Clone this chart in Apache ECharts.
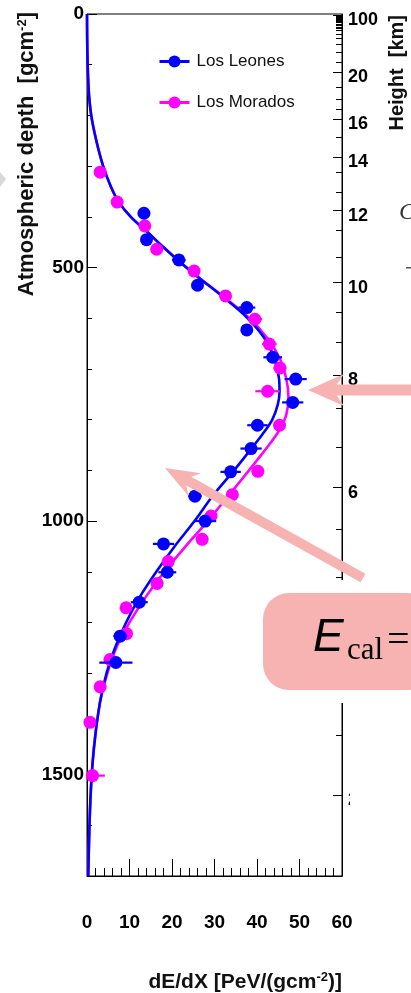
<!DOCTYPE html>
<html>
<head>
<meta charset="utf-8">
<script src="https://cdn.jsdelivr.net/npm/echarts@6/dist/echarts.min.js"></script>
<style>
  html, body { margin: 0; padding: 0; background: #ffffff; }
  #chart { width: 411px; height: 993px; }
</style>
</head>
<body>
<div id="chart"></div>
<script>
// ---- Measured energy deposit profiles (dE/dX in PeV/(g cm^-2) vs slant depth in g cm^-2) ----
const leonesDepth = [393, 445, 485, 535, 579, 623, 677, 720, 766, 811, 857, 903, 951, 1000, 1045, 1101, 1160, 1227, 1279];
const leonesDedx  = [13.4, 14.0, 21.6, 26.0, 37.6, 37.6, 43.7, 49.1, 48.4, 40.1, 38.6, 33.8, 25.4, 27.8, 18.0, 18.9, 12.3, 7.8, 6.8];
const leonesErr   = [0.5, 0.6, 1.6, 1.0, 2.0, 1.2, 2.2, 2.6, 2.5, 2.4, 2.5, 2.4, 1.6, 2.6, 2.5, 2.1, 2.0, 1.6, 3.9];

const moradosDepth = [312, 371, 418, 464, 507, 556, 602, 651, 698, 744, 811, 902, 948, 990, 1036, 1080, 1123, 1171, 1222, 1273, 1327, 1397, 1502];
const moradosDedx  = [3.1, 7.1, 13.6, 16.4, 25.2, 32.6, 39.5, 42.9, 45.4, 42.5, 45.3, 40.2, 34.2, 29.2, 27.1, 19.1, 16.5, 9.2, 9.3, 5.4, 3.1, 0.7, 1.3];
const moradosErr   = [0.3, 0.4, 0.5, 0.6, 0.9, 1.0, 1.7, 1.7, 1.5, 2.9, 1.3, 1.4, 1.3, 1.0, 0.9, 1.0, 0.9, 0.6, 0.7, 0.5, 0.3, 0.3, 2.9];

// ---- Profile fits ----
const leonesFitDepth = [0, 80, 150, 200, 250, 300, 340, 370, 400, 430, 460, 490, 520, 560, 600, 640, 680, 720, 745, 770, 800, 830, 860, 900, 950, 1000, 1050, 1100, 1150, 1200, 1250, 1300, 1360, 1450, 1550, 1700];
const leonesFitDedx  = [0, 0.1, 0.4, 1.0, 2.2, 3.8, 5.6, 7.4, 10.3, 14.2, 18.0, 22.0, 26.3, 32.3, 37.8, 41.8, 44.1, 45.2, 45.3, 44.9, 43.6, 41.2, 38.4, 34.6, 29.6, 25.3, 20.6, 16.3, 12.4, 9.2, 6.6, 4.6, 3.0, 1.6, 0.8, 0.3];

const moradosFitDepth = [0, 80, 150, 200, 250, 300, 340, 370, 400, 430, 460, 490, 520, 560, 600, 640, 680, 720, 755, 790, 820, 850, 880, 920, 960, 1000, 1050, 1100, 1150, 1200, 1250, 1300, 1360, 1450, 1550, 1700];
const moradosFitDedx  = [0, 0.1, 0.4, 1.0, 2.2, 3.8, 5.6, 7.4, 10.3, 14.2, 18.0, 22.0, 26.4, 32.5, 38.2, 42.5, 45.4, 46.9, 47.4, 46.9, 45.3, 42.8, 40.0, 36.2, 32.3, 28.4, 23.2, 18.2, 13.8, 10.0, 6.9, 4.8, 3.0, 1.6, 0.8, 0.3];

// ---- Axis ticks ----
const dedxTicks = [0, 10, 20, 30, 40, 50, 60];
const depthTicks = [0, 500, 1000, 1500];
// Height scale on the right: labelled heights (km) and the slant depth each sits at
const heightLabels = ['100', '20', '16', '14', '12', '10', '8', '6', '4', '2'];
const heightMajorDepth = [2, 114, 207, 282, 388, 530, 712, 933, 1222, 1540];
const heightMinorDepth = [4, 6, 8, 10, 12, 14, 17, 20, 23, 26, 29, 33, 39, 47, 59, 75, 95, 144, 168, 187, 244, 313, 351, 426, 479, 588, 647, 777, 854, 1017, 1110, 1422];

const FONT = "'Liberation Sans', Arial, Helvetica, sans-serif";
const BLUE = '#0000ff';
const MAGENTA = '#ff00ff';
const PINK = '#f7b2b2';

const zip = (xs, ys) => xs.map((x, i) => [x, ys[i]]);
const zip3 = (xs, ys, es) => xs.map((x, i) => [x, ys[i], es[i]]);

function errorBar(params, api) {
  const x = api.value(0), d = api.value(1), e = api.value(2);
  const a = api.coord([Math.max(0, x - e), d]);
  const b = api.coord([x + e, d]);
  return {
    type: 'line',
    shape: { x1: a[0], y1: a[1], x2: b[0], y2: b[1] },
    style: { stroke: api.visual('color'), lineWidth: 2.2 }
  };
}

// Filled arrow outline from tail to tip
function arrowPoints(x0, y0, x1, y1, shaftW, headL, headW) {
  const dx = x1 - x0, dy = y1 - y0, L = Math.hypot(dx, dy);
  const ux = dx / L, uy = dy / L, px = -uy, py = ux;
  const bx = x1 - ux * headL, by = y1 - uy * headL;
  const jx = x1 - ux * headL * 0.8, jy = y1 - uy * headL * 0.8;
  const s = shaftW / 2;
  return [
    [x0 + px * s, y0 + py * s],
    [jx + px * s, jy + py * s],
    [bx + px * headW, by + py * headW],
    [x1, y1],
    [bx - px * headW, by - py * headW],
    [jx - px * s, jy - py * s],
    [x0 - px * s, y0 - py * s]
  ];
}

const chart = echarts.init(document.getElementById('chart'), null, { renderer: 'canvas' });

const depthAxisBase = { type: 'value', inverse: true, min: 0, max: 1700, splitLine: { show: false } };

chart.setOption({
  animation: false,
  backgroundColor: '#ffffff',
  grid: { left: 87, right: 69, top: 14, bottom: 117, show: true, borderColor: '#000', borderWidth: 1, backgroundColor: 'transparent' },
  legend: {
    orient: 'vertical', left: 158, top: 53, padding: 0,
    itemWidth: 30, itemHeight: 15, itemGap: 24,
    data: ['Los Leones', 'Los Morados'],
    selectedMode: false,
    textStyle: { fontSize: 17, color: '#111', fontFamily: FONT, padding: [0, 0, 0, 2] },
    lineStyle: { width: 3, opacity: 1 }
  },
  xAxis: {
    type: 'value', position: 'bottom', min: dedxTicks[0], max: dedxTicks[dedxTicks.length - 1], interval: 10,
    axisLine: { show: true, onZero: false, lineStyle: { color: '#000', width: 1 } },
    axisTick: { show: true, inside: true, length: 17, lineStyle: { color: '#000' } },
    minorTick: { show: true, splitNumber: 5, length: 8, lineStyle: { color: '#000' } },
    axisLabel: { fontSize: 19, fontWeight: 'bold', color: '#000', fontFamily: FONT, margin: 37 },
    splitLine: { show: false }
  },
  yAxis: [
    Object.assign({}, depthAxisBase, {
      position: 'left', interval: 500,
      axisLine: { show: true, onZero: false, lineStyle: { color: '#000', width: 1 } },
      axisTick: { show: true, inside: true, length: 10, lineStyle: { color: '#000' } },
      axisLabel: { fontSize: 19, fontWeight: 'bold', color: '#000', fontFamily: FONT, margin: 3, showMaxLabel: false,
        formatter: v => depthTicks.indexOf(v) >= 0 ? String(v) : '' }
    }),
    Object.assign({}, depthAxisBase, {
      position: 'left', interval: 100,
      axisLine: { show: false, onZero: false },
      axisTick: { show: true, inside: true, length: 5, lineStyle: { color: '#000' } },
      axisLabel: { show: false }
    }),
    Object.assign({}, depthAxisBase, {
      position: 'right',
      axisLine: { show: true, onZero: false, lineStyle: { color: '#000', width: 1 } },
      axisTick: { show: true, inside: true, length: 9, customValues: heightMajorDepth, lineStyle: { color: '#000' } },
      axisLabel: { show: true, customValues: heightMajorDepth, fontSize: 18, fontWeight: 'bold', color: '#000', fontFamily: FONT, margin: 6,
        verticalAlign: 'top', lineHeight: 11,
        formatter: v => { const i = heightMajorDepth.indexOf(v); return i >= 0 ? heightLabels[i] : ''; } }
    }),
    Object.assign({}, depthAxisBase, {
      position: 'right',
      axisLine: { show: false, onZero: false },
      axisTick: { show: true, inside: true, length: 6, customValues: heightMinorDepth, lineStyle: { color: '#000' } },
      axisLabel: { show: false }
    })
  ],
  series: [
    {
      name: 'Los Morados fit', type: 'line', data: zip(moradosFitDedx, moradosFitDepth),
      symbol: 'none', smooth: 0.35, z: 2,
      lineStyle: { color: MAGENTA, width: 2.6 }
    },
    {
      name: 'Los Leones fit', type: 'line', data: zip(leonesFitDedx, leonesFitDepth),
      symbol: 'none', smooth: 0.35, z: 3,
      lineStyle: { color: BLUE, width: 2.6 }
    },
    {
      name: 'Los Morados err', type: 'custom', renderItem: errorBar, z: 4,
      itemStyle: { color: MAGENTA }, data: zip3(moradosDedx, moradosDepth, moradosErr),
      encode: { x: 0, y: 1 }
    },
    {
      name: 'Los Morados', type: 'line', data: zip(moradosDedx, moradosDepth), z: 4,
      symbol: 'circle', symbolSize: 13, showSymbol: true,
      itemStyle: { color: MAGENTA }, lineStyle: { color: MAGENTA, opacity: 0 }
    },
    {
      name: 'Los Leones err', type: 'custom', renderItem: errorBar, z: 5,
      itemStyle: { color: BLUE }, data: zip3(leonesDedx, leonesDepth, leonesErr),
      encode: { x: 0, y: 1 }
    },
    {
      name: 'Los Leones', type: 'line', data: zip(leonesDedx, leonesDepth), z: 5,
      symbol: 'circle', symbolSize: 13, showSymbol: true,
      itemStyle: { color: BLUE }, lineStyle: { color: BLUE, opacity: 0 }
    }
  ],
  graphic: [
    // axis titles
    { type: 'text', x: 27, y: 12, rotation: Math.PI / 2, z: 50,
      style: { text: 'Atmospheric depth  [gcm{sup|-2}]', align: 'right', verticalAlign: 'middle',
        font: 'bold 22px ' + FONT, fill: '#111',
        rich: { sup: { fontSize: 13, fontWeight: 'bold', fontFamily: FONT, verticalAlign: 'top', padding: [0, 0, 9, 0] } } } },
    { type: 'text', x: 397, y: 15, rotation: Math.PI / 2, z: 50,
      style: { text: 'Height  [km]', align: 'right', verticalAlign: 'middle', font: 'bold 20px ' + FONT, fill: '#111' } },
    { type: 'text', x: 342, y: 982, z: 50,
      style: { text: 'dE/dX [PeV/(gcm{sup|-2})]', align: 'right', verticalAlign: 'middle',
        font: 'bold 21px ' + FONT, fill: '#111',
        rich: { sup: { fontSize: 13, fontWeight: 'bold', fontFamily: FONT, verticalAlign: 'top', padding: [0, 0, 9, 0] } } } },

    // partial glyphs at the right edge
    { type: 'text', x: 399, y: 213, z: 50,
      style: { text: 'C', verticalAlign: 'middle', font: 'italic 24px "Liberation Serif", serif', fill: '#333' } },
    { type: 'rect', shape: { x: 406, y: 267, width: 5, height: 1.5 }, z: 50, style: { fill: '#555' } },
    { type: 'polygon', shape: { points: [[0, 172], [6, 179], [0, 187]] }, z: 50, style: { fill: '#d8d8d8' } },

    // white panel under the formula box, and a cover at the lower right edge
    { type: 'rect', shape: { x: 253, y: 580, width: 160, height: 123 }, z: 90, style: { fill: '#ffffff' } },
    { type: 'rect', shape: { x: 350, y: 706, width: 61, height: 170 }, z: 90, style: { fill: '#ffffff' } },

    // arrows
    { type: 'polygon', shape: { points: arrowPoints(412, 390, 308, 390, 11, 36, 16) }, z: 95, style: { fill: PINK } },
    { type: 'polygon', shape: { points: arrowPoints(363, 578, 165, 468, 10, 34, 13) }, z: 95, style: { fill: PINK } },

    // formula box
    { type: 'rect', shape: { x: 263, y: 593, width: 170, height: 97, r: 26 }, z: 96, style: { fill: PINK } },
    { type: 'text', x: 313, y: 638, z: 97,
      style: { text: 'E', verticalAlign: 'middle', font: 'italic 46px ' + FONT, fill: '#000' } },
    { type: 'text', x: 347, y: 651, z: 97,
      style: { text: 'cal', verticalAlign: 'middle', font: '31px "Liberation Serif", "Times New Roman", serif', fill: '#000' } },
    { type: 'text', x: 387, y: 641, z: 97,
      style: { text: '=', verticalAlign: 'middle', font: '40px "Liberation Serif", "Times New Roman", serif', fill: '#000' } }
  ]
});
</script>
</body>
</html>
